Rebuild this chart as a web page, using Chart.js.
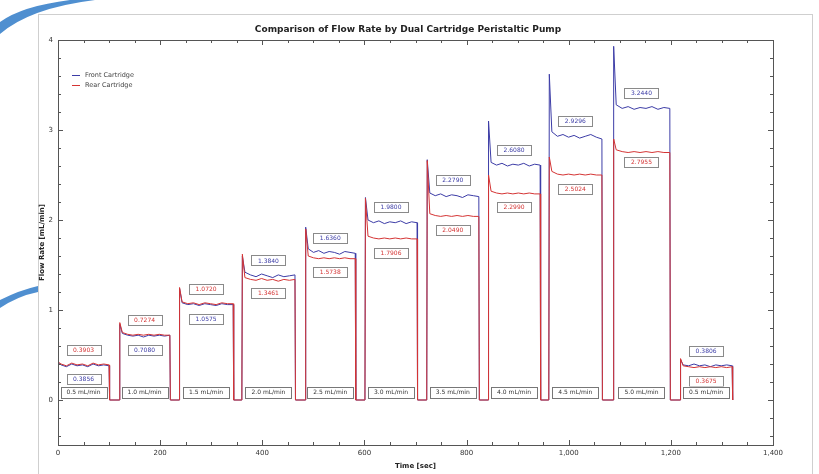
<!DOCTYPE html>
<html>
<head>
<meta charset="utf-8">
<script src="https://cdn.jsdelivr.net/npm/chart.js@4"></script>
<style>
  html, body { margin: 0; padding: 0; background: #fff; }
  #wrap { width: 819px; height: 474px; position: relative; }
</style>
</head>
<body>
<div id="wrap"><canvas id="flowChart" width="819" height="474"></canvas></div>
<script>
// step timing (sec)
const stepStart = [0, 120, 237, 360, 484, 601, 722, 842, 961, 1087, 1218];
const stepEnd = [100, 219, 343, 464, 582, 703, 824, 944, 1065, 1198, 1320];

// per step: first value = start spike, rest = plateau samples
const frontSteps = [
    [0.41, 0.39, 0.37, 0.40, 0.38, 0.39, 0.37, 0.40, 0.38, 0.39, 0.38],
    [0.84, 0.74, 0.72, 0.71, 0.72, 0.70, 0.72, 0.71, 0.72, 0.71, 0.72],
    [1.24, 1.08, 1.06, 1.07, 1.05, 1.07, 1.06, 1.05, 1.07, 1.06, 1.06],
    [1.60, 1.42, 1.39, 1.37, 1.40, 1.38, 1.36, 1.39, 1.37, 1.38, 1.39],
    [1.92, 1.68, 1.64, 1.66, 1.63, 1.65, 1.64, 1.62, 1.65, 1.64, 1.63],
    [2.25, 2.00, 1.97, 1.99, 1.96, 1.98, 1.97, 1.99, 1.96, 1.98, 1.97],
    [2.67, 2.30, 2.27, 2.29, 2.26, 2.28, 2.27, 2.25, 2.28, 2.27, 2.26],
    [3.10, 2.64, 2.61, 2.63, 2.60, 2.62, 2.61, 2.63, 2.60, 2.62, 2.61],
    [3.62, 2.98, 2.93, 2.95, 2.92, 2.94, 2.91, 2.93, 2.95, 2.92, 2.90],
    [3.93, 3.28, 3.24, 3.26, 3.23, 3.25, 3.24, 3.26, 3.23, 3.25, 3.24],
    [0.45, 0.39, 0.38, 0.40, 0.38, 0.39, 0.37, 0.39, 0.38, 0.39, 0.38]
];
const rearSteps = [
    [0.42, 0.40, 0.38, 0.41, 0.39, 0.40, 0.38, 0.41, 0.39, 0.40, 0.39],
    [0.86, 0.75, 0.73, 0.72, 0.73, 0.72, 0.73, 0.72, 0.73, 0.72, 0.72],
    [1.25, 1.09, 1.07, 1.08, 1.06, 1.08, 1.07, 1.06, 1.08, 1.07, 1.07],
    [1.62, 1.36, 1.34, 1.33, 1.35, 1.33, 1.34, 1.32, 1.34, 1.33, 1.34],
    [1.90, 1.60, 1.58, 1.57, 1.58, 1.57, 1.58, 1.57, 1.58, 1.57, 1.57],
    [2.24, 1.82, 1.80, 1.79, 1.80, 1.79, 1.80, 1.79, 1.80, 1.79, 1.79],
    [2.66, 2.07, 2.05, 2.04, 2.05, 2.04, 2.05, 2.04, 2.05, 2.04, 2.04],
    [2.50, 2.32, 2.30, 2.29, 2.30, 2.29, 2.30, 2.29, 2.30, 2.29, 2.29],
    [2.70, 2.54, 2.51, 2.50, 2.51, 2.50, 2.51, 2.50, 2.51, 2.50, 2.50],
    [2.90, 2.78, 2.76, 2.75, 2.76, 2.75, 2.76, 2.75, 2.76, 2.75, 2.75],
    [0.46, 0.38, 0.37, 0.36, 0.37, 0.36, 0.37, 0.36, 0.37, 0.36, 0.37]
];

// boxed annotations
const frontAvg = ['0.3856', '0.7080', '1.0575', '1.3840', '1.6360', '1.9800', '2.2790', '2.6080', '2.9296', '3.2440', '0.3806'];
const rearAvg = ['0.3903', '0.7274', '1.0720', '1.3461', '1.5738', '1.7906', '2.0490', '2.2990', '2.5024', '2.7955', '0.3675'];
const setRates = ['0.5 mL/min', '1.0 mL/min', '1.5 mL/min', '2.0 mL/min', '2.5 mL/min', '3.0 mL/min',
    '3.5 mL/min', '4.0 mL/min', '4.5 mL/min', '5.0 mL/min', '0.5 mL/min'];

const FRONT = '#3c3ca6';
const REAR = '#d43434';

function buildTrace(steps) {
    const pts = [];
    stepStart.forEach(function(s, i) {
        const e = stepEnd[i];
        const vals = steps[i];
        const n = vals.length - 1;
        pts.push({x: s, y: 0});
        pts.push({x: s + 1, y: vals[0]});
        for (let k = 1; k <= n; k++) {
            pts.push({x: s + 6 + (e - s - 6) * (k - 1) / (n - 1), y: vals[k]});
        }
        pts.push({x: e + 1, y: 0});
    });
    return pts;
}

function box(ctx, cx, cy, w, h, text, border, color, font) {
    ctx.fillStyle = '#fff';
    ctx.fillRect(cx - w / 2, cy - h / 2, w, h);
    ctx.strokeStyle = border;
    ctx.lineWidth = 1;
    ctx.strokeRect(Math.round(cx - w / 2) + 0.5, Math.round(cy - h / 2) + 0.5, w, h);
    ctx.fillStyle = color;
    ctx.font = font;
    ctx.textAlign = 'center';
    ctx.textBaseline = 'middle';
    ctx.fillText(text, cx, cy + 0.5);
}

// frame, ticks, text and boxes
const decorPlugin = {
    id: 'decor',
    beforeDraw(chart) {
        const ctx = chart.ctx;
        ctx.save();
        ctx.strokeStyle = '#cfcfcf';
        ctx.lineWidth = 1;
        ctx.strokeRect(38.5, 14.5, 774, 480);
        // blue page swooshes
        ctx.fillStyle = '#4f8fd0';
        ctx.beginPath();
        ctx.moveTo(0, 34);
        ctx.quadraticCurveTo(30, 8, 95, 0);
        ctx.lineTo(70, 0);
        ctx.quadraticCurveTo(22, 6, 0, 22);
        ctx.closePath();
        ctx.fill();
        ctx.beginPath();
        ctx.moveTo(0, 300);
        ctx.quadraticCurveTo(20, 290, 38, 286);
        ctx.lineTo(38, 292);
        ctx.quadraticCurveTo(18, 296, 0, 308);
        ctx.closePath();
        ctx.fill();
        ctx.restore();
    },
    afterDatasetsDraw(chart) {
        const ctx = chart.ctx;
        const xs = chart.scales.x, ys = chart.scales.y;
        const a = chart.chartArea;
        ctx.save();
        ctx.strokeStyle = '#555';
        ctx.lineWidth = 1;
        ctx.strokeRect(a.left + 0.5, a.top + 0.5, a.right - a.left, a.bottom - a.top);
        ctx.beginPath();
        for (let t = 0; t <= 1400; t += 50) {
            const px = Math.round(xs.getPixelForValue(t)) + 0.5;
            const len = t % 200 === 0 ? 5 : 3;
            ctx.moveTo(px, a.bottom); ctx.lineTo(px, a.bottom - len);
            ctx.moveTo(px, a.top); ctx.lineTo(px, a.top + len);
        }
        for (let v = -0.4; v <= 4.001; v += 0.2) {
            const py = Math.round(ys.getPixelForValue(v)) + 0.5;
            const major = Math.abs(v - Math.round(v)) < 0.01;
            const len = major ? 5 : 3;
            ctx.moveTo(a.left, py); ctx.lineTo(a.left + len, py);
            ctx.moveTo(a.right, py); ctx.lineTo(a.right - len, py);
        }
        ctx.stroke();

        // value boxes
        const small = '6px "DejaVu Sans"';
        stepStart.forEach(function(s, i) {
            const cx = xs.getPixelForValue((s + stepEnd[i]) / 2);
            const f = parseFloat(frontAvg[i]), r = parseFloat(rearAvg[i]);
            const upperIsFront = f > r;
            const hi = Math.max(f, r), lo = Math.min(f, r);
            box(ctx, cx, ys.getPixelForValue(hi) - 15, 34, 10,
                upperIsFront ? frontAvg[i] : rearAvg[i], '#8a8a8a', upperIsFront ? FRONT : REAR, small);
            box(ctx, cx, ys.getPixelForValue(lo) + 14, 34, 10,
                upperIsFront ? rearAvg[i] : frontAvg[i], '#8a8a8a', upperIsFront ? REAR : FRONT, small);
            box(ctx, cx, ys.getPixelForValue(0) - 8, 46, 11, setRates[i], '#777', '#333', small);
        });

        // legend
        ctx.font = '6.5px "DejaVu Sans"';
        ctx.textAlign = 'left';
        ctx.textBaseline = 'middle';
        [['Front Cartridge', FRONT], ['Rear Cartridge', REAR]].forEach(function(item, k) {
            const y = a.top + 35 + k * 10;
            ctx.strokeStyle = item[1];
            ctx.beginPath(); ctx.moveTo(a.left + 14, y + 0.5); ctx.lineTo(a.left + 22, y + 0.5); ctx.stroke();
            ctx.fillStyle = '#444';
            ctx.fillText(item[0], a.left + 27, y);
        });

        // titles
        ctx.fillStyle = '#222';
        ctx.textAlign = 'center';
        ctx.font = 'bold 9px "DejaVu Sans"';
        ctx.fillText('Comparison of Flow Rate by Dual Cartridge Peristaltic Pump', 408, 30);
        ctx.font = 'bold 7px "DejaVu Sans"';
        ctx.fillText('Time [sec]', (a.left + a.right) / 2, 466);
        ctx.translate(42, (a.top + a.bottom) / 2);
        ctx.rotate(-Math.PI / 2);
        ctx.fillText('Flow Rate [mL/min]', 0, 0);
        ctx.restore();
    }
};

new Chart(document.getElementById('flowChart'), {
    type: 'line',
    data: {
        datasets: [{
            label: 'Front Cartridge',
            data: buildTrace(frontSteps),
            borderColor: FRONT,
            borderWidth: 1,
            pointRadius: 0,
            tension: 0,
            order: 2
        }, {
            label: 'Rear Cartridge',
            data: buildTrace(rearSteps),
            borderColor: REAR,
            borderWidth: 1,
            pointRadius: 0,
            tension: 0,
            order: 1
        }]
    },
    options: {
        responsive: false,
        animation: false,
        layout: { padding: { top: 40, right: 46, left: 0, bottom: 0 } },
        plugins: { legend: { display: false }, tooltip: { enabled: false } },
        scales: {
            x: {
                type: 'linear',
                min: 0,
                max: 1400,
                grid: { display: false, drawTicks: false },
                border: { display: false },
                ticks: {
                    stepSize: 200,
                    padding: 4,
                    maxRotation: 0,
                    color: '#333',
                    font: { size: 7, family: 'DejaVu Sans' },
                    callback: function(v) { return v.toLocaleString('en-US'); }
                },
                afterFit: function(scale) { scale.height = 29; }
            },
            y: {
                min: -0.5,
                max: 4,
                grid: { display: false, drawTicks: false },
                border: { display: false },
                ticks: {
                    stepSize: 1,
                    padding: 5,
                    color: '#333',
                    font: { size: 7, family: 'DejaVu Sans' },
                    callback: function(v) { return Number.isInteger(v) ? String(v) : ''; }
                },
                afterFit: function(scale) { scale.width = 58; }
            }
        }
    },
    plugins: [decorPlugin]
});
</script>
</body>
</html>
